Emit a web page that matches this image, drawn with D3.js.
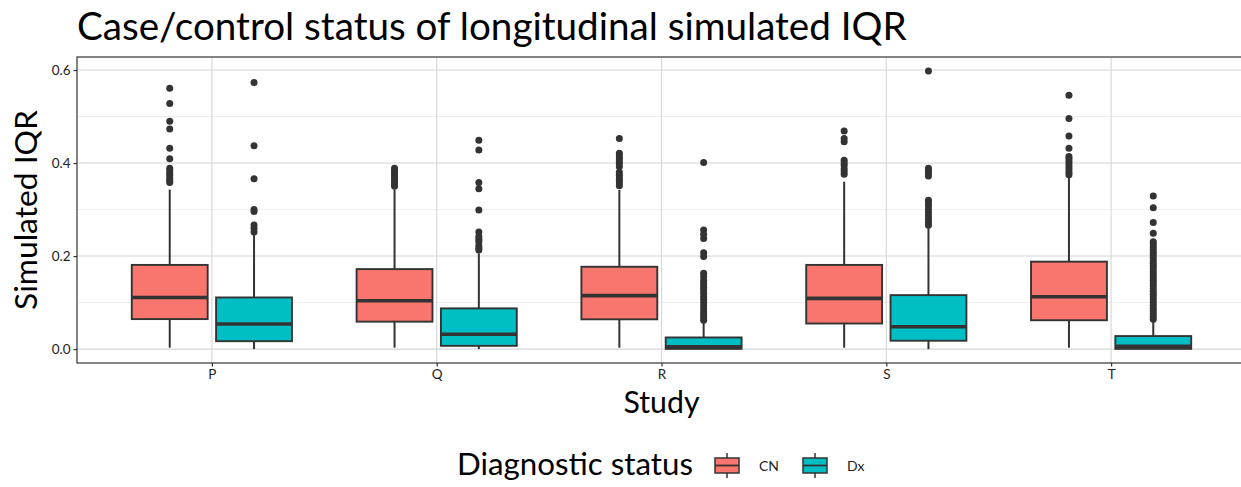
<!DOCTYPE html>
<html>
<head>
<meta charset="utf-8">
<script src="https://cdn.jsdelivr.net/npm/d3@7"></script>
<style>
  body { margin: 0; background: #fff; }
  text { font-family: Lato, "Open Sans", sans-serif; }
</style>
</head>
<body>
<script>
const width = 1241;
const height = 487;
const margin = { top: 57, bottom: 124, left: 77, right: -5 };

const studies = ["P", "Q", "R", "S", "T"];
const groups = ["CN", "Dx"];
const colores = ["#F8766D", "#00BFC4"];
const yTicks = [0, 0.2, 0.4, 0.6];
const yMinor = [0.1, 0.3, 0.5];

// [whisker low, Q1, median, Q3, whisker high]
const cnStats = [
  [0.003, 0.0645, 0.111, 0.181, 0.343],
  [0.003, 0.059, 0.104, 0.172, 0.343],
  [0.003, 0.064, 0.115, 0.177, 0.342],
  [0.003, 0.055, 0.109, 0.181, 0.36],
  [0.003, 0.062, 0.1125, 0.188, 0.371],
];
const dxStats = [
  [0.0, 0.017, 0.054, 0.111, 0.247],
  [0.0, 0.007, 0.032, 0.0875, 0.206],
  [0.0, 0.0005, 0.005, 0.025, 0.058],
  [0.0, 0.018, 0.048, 0.116, 0.26],
  [0.0, 0.0005, 0.006, 0.028, 0.061],
];

const cnOutliers = [
  [0.561, 0.528, 0.49, 0.473, 0.432, 0.409, 0.389, 0.384, 0.378, 0.373, 0.367, 0.362, 0.358],
  [0.389, 0.385, 0.38, 0.375, 0.37, 0.365, 0.36, 0.355, 0.35],
  [0.453, 0.421, 0.415, 0.41, 0.404, 0.399, 0.392, 0.38, 0.374, 0.368, 0.363, 0.357, 0.351],
  [0.469, 0.453, 0.446, 0.406, 0.4, 0.395, 0.388, 0.382, 0.376],
  [0.546, 0.496, 0.458, 0.432, 0.414, 0.41, 0.404, 0.398, 0.392, 0.386, 0.38, 0.375],
];
const dxOutliers = [
  [0.573, 0.437, 0.366, 0.3, 0.296, 0.267, 0.26, 0.252],
  [0.449, 0.428, 0.358, 0.345, 0.299, 0.252, 0.242, 0.236, 0.231, 0.222, 0.217, 0.213],
  [0.401, 0.256, 0.247, 0.238, 0.207, 0.199, 0.163, 0.156, 0.148, 0.142, 0.138, 0.132,
   0.127, 0.12, 0.113, 0.107, 0.1, 0.093, 0.087, 0.08, 0.074, 0.068, 0.062],
  [0.598, 0.389, 0.384, 0.378, 0.372, 0.32, 0.314, 0.308, 0.3, 0.293, 0.286, 0.279, 0.272, 0.266],
  [0.329, 0.304, 0.272, 0.249, 0.231, 0.226, 0.22, 0.214, 0.208, 0.203, 0.197, 0.19, 0.184,
   0.178, 0.172, 0.166, 0.16, 0.154, 0.148, 0.142, 0.136, 0.13, 0.124, 0.118, 0.112, 0.106,
   0.1, 0.094, 0.088, 0.082, 0.076, 0.07, 0.064],
];

const svg = d3
  .select("body")
  .append("svg")
  .attr("width", width)
  .attr("height", height);

const x = d3
  .scalePoint()
  .domain(studies)
  .range([margin.left, width - margin.right])
  .padding(0.6);
const paso = x.step();

const xGrupo = d3
  .scaleBand()
  .domain(groups)
  .range([-0.375 * paso, 0.375 * paso]);
const anchoCaja = xGrupo.bandwidth() * 0.9;

const y = d3
  .scaleLinear()
  .domain([-0.0299, 0.628])
  .range([height - margin.bottom, margin.top]);

// grid
const grid = svg.append("g");
grid
  .selectAll("line.minor")
  .data(yMinor)
  .join("line")
  .attr("x1", margin.left)
  .attr("x2", width)
  .attr("y1", (d) => y(d))
  .attr("y2", (d) => y(d))
  .attr("stroke", "#e8e8e8")
  .attr("stroke-width", 0.7);
grid
  .selectAll("line.major")
  .data(yTicks)
  .join("line")
  .attr("x1", margin.left)
  .attr("x2", width)
  .attr("y1", (d) => y(d))
  .attr("y2", (d) => y(d))
  .attr("stroke", "#d6d6d6")
  .attr("stroke-width", 1.1);
grid
  .selectAll("line.vert")
  .data(studies)
  .join("line")
  .attr("x1", (d) => x(d))
  .attr("x2", (d) => x(d))
  .attr("y1", margin.top)
  .attr("y2", height - margin.bottom)
  .attr("stroke", "#d6d6d6")
  .attr("stroke-width", 1.1);

// boxes
const datos = [];
studies.forEach((s, i) => {
  datos.push({ study: s, grupo: "CN", st: cnStats[i], out: cnOutliers[i] });
  datos.push({ study: s, grupo: "Dx", st: dxStats[i], out: dxOutliers[i] });
});
const color = d3.scaleOrdinal().domain(groups).range(colores);
const cx = (d) => x(d.study) + xGrupo(d.grupo) + xGrupo.bandwidth() / 2;

const cajas = svg.append("g").selectAll("g").data(datos).join("g");

cajas
  .append("line")
  .attr("x1", cx)
  .attr("x2", cx)
  .attr("y1", (d) => y(d.st[0]))
  .attr("y2", (d) => y(d.st[4]))
  .attr("stroke", "#333")
  .attr("stroke-width", 2);

cajas
  .append("rect")
  .attr("x", (d) => cx(d) - anchoCaja / 2)
  .attr("width", anchoCaja)
  .attr("y", (d) => y(d.st[3]))
  .attr("height", (d) => y(d.st[1]) - y(d.st[3]))
  .attr("fill", (d) => color(d.grupo))
  .attr("stroke", "#333")
  .attr("stroke-width", 1.9);

cajas
  .append("line")
  .attr("x1", (d) => cx(d) - anchoCaja / 2)
  .attr("x2", (d) => cx(d) + anchoCaja / 2)
  .attr("y1", (d) => y(d.st[2]))
  .attr("y2", (d) => y(d.st[2]))
  .attr("stroke", "#333")
  .attr("stroke-width", 3.6);

cajas
  .selectAll("circle")
  .data((d) => d.out.map((v) => ({ v, c: cx(d) })))
  .join("circle")
  .attr("cx", (d) => d.c)
  .attr("cy", (d) => y(d.v))
  .attr("r", 3.5)
  .attr("fill", "#333");

// panel border
svg
  .append("rect")
  .attr("x", margin.left)
  .attr("y", margin.top)
  .attr("width", width - margin.right - margin.left)
  .attr("height", height - margin.bottom - margin.top)
  .attr("fill", "none")
  .attr("stroke", "#333")
  .attr("stroke-width", 1.2);

// axes
const ejeY = d3.axisLeft(y).tickValues(yTicks).tickFormat(d3.format(".1f")).tickSize(3.5).tickPadding(3);
const contEjeY = svg.append("g").attr("transform", `translate(${margin.left},0)`).call(ejeY);
const ejeX = d3.axisBottom(x).tickSize(3.5).tickPadding(3);
const contEjeX = svg
  .append("g")
  .attr("transform", `translate(0,${height - margin.bottom})`)
  .call(ejeX);
[contEjeY, contEjeX].forEach((g) => {
  g.select(".domain").remove();
  g.attr("font-family", null).attr("font-size", null);
  g.selectAll("line").attr("stroke", "#333").attr("stroke-width", 1.2);
  g.selectAll("text").attr("fill", "#222").attr("font-size", 13.5);
});

function ajustar(sel, ancho) {
  const w = sel.node().getComputedTextLength();
  const fs = parseFloat(sel.attr("font-size"));
  sel.attr("font-size", (fs * ancho) / w);
}

// titles
const titulo = svg
  .append("text")
  .attr("x", margin.left)
  .attr("y", 40)
  .attr("font-size", 38)
  .attr("fill", "#000")
  .text("Case/control status of longitudinal simulated IQR");
ajustar(titulo, 830);

const tituloX = svg
  .append("text")
  .attr("x", (margin.left + width - margin.right) / 2)
  .attr("y", 413)
  .attr("text-anchor", "middle")
  .attr("font-size", 28)
  .text("Study");
ajustar(tituloX, 76);

const tituloY = svg
  .append("text")
  .attr("transform", `translate(37,${(margin.top + height - margin.bottom) / 2}) rotate(-90)`)
  .attr("text-anchor", "middle")
  .attr("font-size", 30)
  .text("Simulated IQR");
ajustar(tituloY, 200);

// legend
const leyenda = svg.append("g");
const tituloLeyenda = leyenda
  .append("text")
  .attr("x", 457)
  .attr("y", 475)
  .attr("font-size", 28)
  .text("Diagnostic status");
ajustar(tituloLeyenda, 236);

const claves = leyenda
  .selectAll("g.clave")
  .data(groups)
  .join("g")
  .attr("transform", (d, i) => `translate(${715 + i * 88},0)`);
claves
  .append("line")
  .attr("x1", 12)
  .attr("x2", 12)
  .attr("y1", 453)
  .attr("y2", 478)
  .attr("stroke", "#333")
  .attr("stroke-width", 1.5);
claves
  .append("rect")
  .attr("x", 0)
  .attr("y", 458)
  .attr("width", 24)
  .attr("height", 15)
  .attr("fill", (d) => color(d))
  .attr("stroke", "#333")
  .attr("stroke-width", 1.5);
claves
  .append("line")
  .attr("x1", 0)
  .attr("x2", 24)
  .attr("y1", 465.5)
  .attr("y2", 465.5)
  .attr("stroke", "#333")
  .attr("stroke-width", 1.8);
claves
  .append("text")
  .attr("x", 44)
  .attr("y", 471)
  .attr("font-size", 14)
  .attr("fill", "#222")
  .text((d) => d);
</script>
</body>
</html>
